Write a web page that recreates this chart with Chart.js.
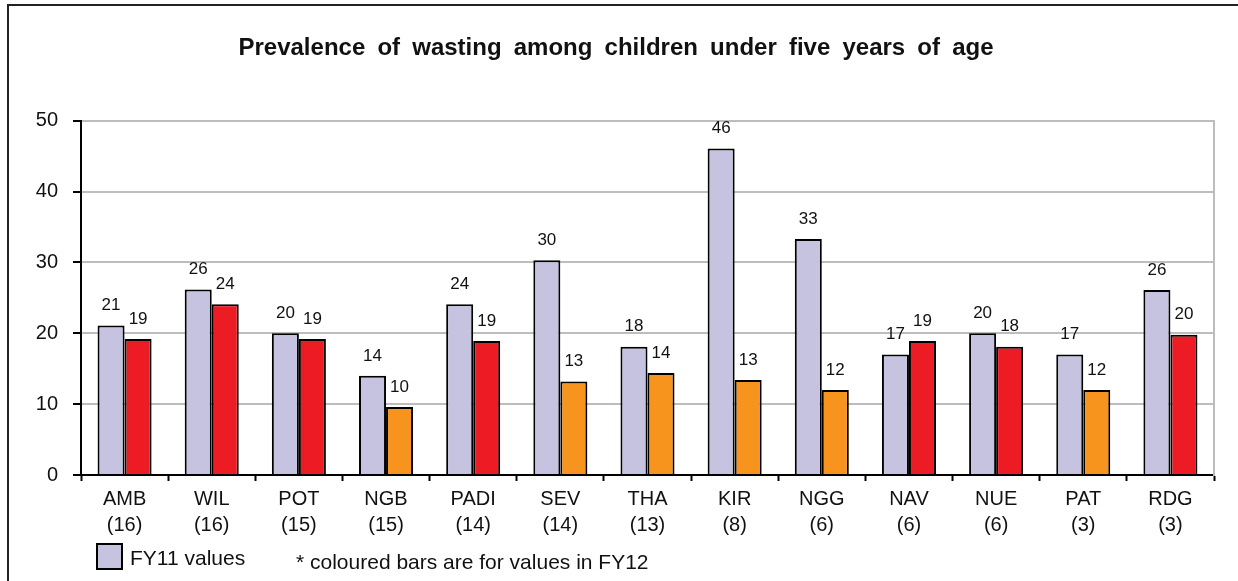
<!DOCTYPE html>
<html>
<head>
<meta charset="utf-8">
<script src="https://cdn.jsdelivr.net/npm/chart.js@4.4.1/dist/chart.umd.min.js"></script>
<style>
  html, body { margin: 0; padding: 0; background: #fff; }
  #wrap { position: relative; width: 1238px; height: 581px; overflow: hidden; }
  #frame { position: absolute; left: 7px; top: 4px; width: 1240px; height: 620px; border: 2px solid #222; box-sizing: border-box; pointer-events: none; }
  canvas { position: absolute; left: 0; top: 0; }
  .leg { position: absolute; font-family: "Liberation Sans", Arial, sans-serif; font-size: 21px; color: #111; line-height: 1; white-space: nowrap; }
  #swatch { position: absolute; left: 96px; top: 543px; width: 27px; height: 27px; background: #C5C3E0; border: 2px solid #000; box-sizing: border-box; }
</style>
</head>
<body>
<div id="wrap">
  <canvas id="c" width="1238" height="581"></canvas>
  <div id="frame"></div>
  <div id="swatch"></div>
  <div class="leg" id="leg1" style="left:130px; top:547px;">FY11 values</div>
  <div class="leg" id="leg2" style="left:296px; top:551px;">* coloured bars are for values in FY12</div>
</div>
<script>
const categories = ["AMB", "WIL", "POT", "NGB", "PADI", "SEV", "THA", "KIR", "NGG", "NAV", "NUE", "PAT", "RDG"];
const counts = ["(16)", "(16)", "(15)", "(15)", "(14)", "(14)", "(13)", "(8)", "(6)", "(6)", "(6)", "(3)", "(3)"];
const fy11 = [21.1, 26.2, 20.0, 14.0, 24.1, 30.3, 18.1, 46.1, 33.3, 17.0, 20.0, 17.0, 26.1];
const fy12 = [19.2, 24.1, 19.2, 9.6, 18.9, 13.2, 14.4, 13.4, 12.0, 18.9, 18.1, 12.0, 19.8];
const yTicks = [0, 10, 20, 30, 40, 50];
const threshold = 15;

const LAV = "#C5C3E0", RED = "#ED1C24", ORANGE = "#F7941D";
const fy12Colors = fy12.map(v => v >= threshold ? RED : ORANGE);

const titleSpacing = {
  id: "titleSpacing",
  beforeDraw(chart) { chart.ctx.wordSpacing = "5.5px"; },
  beforeDatasetsDraw(chart) { chart.ctx.wordSpacing = "0px"; }
};

const valueLabels = {
  id: "valueLabels",
  afterDatasetsDraw(chart) {
    const ctx = chart.ctx;
    ctx.save();
    ctx.font = "17px 'Liberation Sans', Arial, sans-serif";
    ctx.fillStyle = "#111";
    ctx.textAlign = "center";
    ctx.textBaseline = "middle";
    chart.data.datasets.forEach((ds, di) => {
      const meta = chart.getDatasetMeta(di);
      meta.data.forEach((el, i) => {
        ctx.fillText(String(Math.round(ds.data[i])), el.x, el.y - 20);
      });
    });
    ctx.restore();
  }
};

new Chart(document.getElementById("c"), {
  type: "bar",
  data: {
    labels: categories.map((c, i) => [c, counts[i]]),
    datasets: [
      { label: "FY11 values", data: fy11, backgroundColor: LAV, borderColor: "#000", borderWidth: 2, borderSkipped: "bottom" },
      { label: "FY12 values", data: fy12, backgroundColor: fy12Colors, borderColor: "#000", borderWidth: 2, borderSkipped: "bottom" }
    ]
  },
  options: {
    responsive: false,
    animation: false,
    devicePixelRatio: 1,
    categoryPercentage: 0.62,
    barPercentage: 1.0,
    layout: { padding: { left: 18, right: 24, top: 0, bottom: 0 } },
    plugins: {
      legend: { display: false },
      tooltip: { enabled: false },
      title: {
        display: true,
        text: "Prevalence of wasting among children under five years of age",
        color: "#111",
        font: { family: "'Liberation Sans', Arial, sans-serif", size: 24, weight: "bold", lineHeight: 1.2 },
        padding: { top: 34, bottom: 58 }
      }
    },
    scales: {
      x: {
        offset: true,
        grid: { display: true, offset: true, drawOnChartArea: false, drawTicks: true, tickLength: 6, tickColor: "#000", tickWidth: 2 },
        border: { display: true, color: "#000", width: 2 },
        ticks: { color: "#111", font: { family: "'Liberation Sans', Arial, sans-serif", size: 20, lineHeight: 1.3 }, padding: 5, maxRotation: 0, autoSkip: false },
        afterFit(scale) { scale.height = 106; }
      },
      y: {
        min: 0, max: 50,
        afterBuildTicks(scale) { scale.ticks = yTicks.map(v => ({ value: v })); },
        grid: { color: "#BDBDBD", lineWidth: 2, drawTicks: true, tickLength: 8, tickColor: "#000", tickWidth: 2 },
        border: { display: true, color: "#000", width: 2 },
        ticks: { color: "#111", font: { family: "'Liberation Sans', Arial, sans-serif", size: 20 }, padding: 15 },
        afterFit(scale) { scale.width = 63; }
      },
      yRight: {
        position: "right",
        display: true,
        min: 0, max: 50,
        grid: { display: true, drawOnChartArea: false, drawTicks: false },
        border: { display: true, color: "#BDBDBD", width: 2 },
        ticks: { display: false },
        afterFit(scale) { scale.width = 0; }
      }
    }
  },
  plugins: [titleSpacing, valueLabels]
});
</script>
</body>
</html>
